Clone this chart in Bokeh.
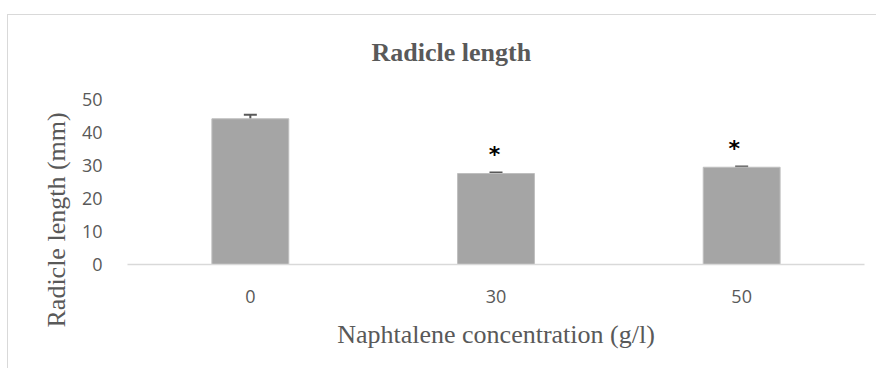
from bokeh.plotting import figure
from bokeh.models import ColumnDataSource, Whisker, TeeHead, FixedTicker, Range1d, FactorRange, Title
from bokeh.core.properties import value
from bokeh.embed import file_html
from bokeh.resources import INLINE

# Data
concentrations = ["0", "30", "50"]
radicle_length = [44.2, 27.6, 29.5]
std_error = [1.2, 0.3, 0.2]
significant = ["", "*", "*"]
y_ticks = [0, 10, 20, 30, 40, 50]
y_title = "Radicle length (mm)"
x_title = "Naphtalene concentration (g/l)"
chart_title = "Radicle length"

lower = [v - e for v, e in zip(radicle_length, std_error)]
upper = [v + e for v, e in zip(radicle_length, std_error)]
star_dx = [0, -1.5, -7.5]

src = ColumnDataSource(data=dict(x=concentrations, top=radicle_length, lower=lower, upper=upper))

TEXT = "#595959"
SERIF = "Liberation Serif"
SANS = "Open Sans"

p = figure(
    x_range=FactorRange(*concentrations, range_padding=0),
    y_range=Range1d(0, 55.2),
    width=869, height=354,
    output_backend="svg", toolbar_location=None,
    min_border_left=119, min_border_right=13,
    min_border_top=67, min_border_bottom=105,
    title=chart_title,
)
p.margin = (14, 0, 0, 7)
p.styles = {"border-top": "1px solid #d9d9d9", "border-left": "1px solid #d9d9d9"}

p.title.text_font = SERIF
p.title.text_font_size = "26px"
p.title.text_font_style = "bold"
p.title.text_color = TEXT
p.title.align = "left"
p.title.offset = 244
p.title.standoff = 31

p.vbar(x="x", top="top", width=0.313, source=src,
       fill_color="#a5a5a5", line_color="#bfbfbf", line_width=1)

w = Whisker(base="x", lower="lower", upper="upper", source=src,
            line_color="#595959", line_width=2,
            upper_head=TeeHead(size=13, line_color="#595959", line_width=2),
            lower_head=TeeHead(size=13, line_color="#595959", line_width=2))
p.add_layout(w)

sig_src = ColumnDataSource(data=dict(x=concentrations, y=upper, sig=significant, dx=star_dx))
p.text(x="x", y="y", text="sig", source=sig_src, x_offset="dx", y_offset=-18,
       text_font=value("DejaVu Sans"), text_font_size="22px", text_color="black",
       text_font_style="bold", text_align="center", text_baseline="alphabetic")

p.xgrid.visible = False
p.ygrid.visible = False
p.outline_line_color = None

p.xaxis.axis_line_color = "#d9d9d9"
p.xaxis.axis_line_width = 1.5
p.xaxis.major_tick_line_color = None
p.xaxis.minor_tick_line_color = None
p.xaxis.major_label_text_font = SANS
p.xaxis.major_label_text_font_size = "18px"
p.xaxis.major_label_text_color = TEXT
p.xaxis.major_label_standoff = 19
p.xaxis.axis_label = x_title
p.xaxis.axis_label_text_font = SERIF
p.xaxis.axis_label_text_font_size = "26px"
p.xaxis.axis_label_text_font_style = "normal"
p.xaxis.axis_label_text_color = TEXT
p.xaxis.axis_label_standoff = 14

p.yaxis.ticker = FixedTicker(ticks=y_ticks)
p.yaxis.axis_line_color = None
p.yaxis.major_tick_line_color = None
p.yaxis.minor_tick_line_color = None
p.yaxis.major_label_text_font = SANS
p.yaxis.major_label_text_font_size = "18px"
p.yaxis.major_label_text_color = TEXT
p.yaxis.major_label_standoff = 19

# y-axis title, placed lower than the frame centre as in the reference
ytitle = Title(text=y_title, align="left", offset=-63, standoff=16,
               text_font=SERIF, text_font_size="26px", text_font_style="normal",
               text_color=TEXT)
p.add_layout(ytitle, "left")

p.background_fill_color = "white"
p.border_fill_color = "white"

open("out.html", "w").write(file_html(p, INLINE))
